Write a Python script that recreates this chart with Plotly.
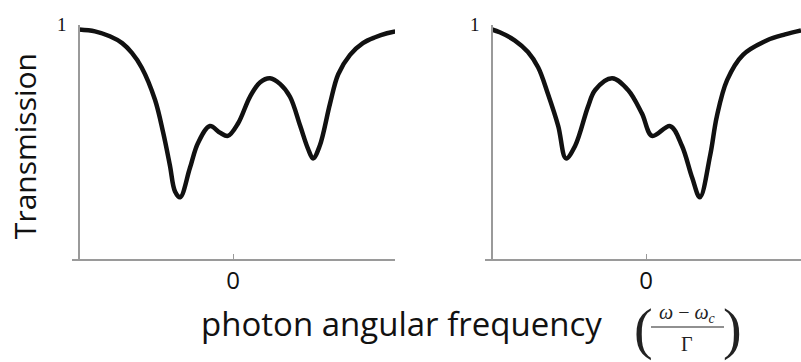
import plotly.graph_objects as go

# Transmission spectrum, left panel (detuning in units of Gamma)
left_x = [-3.0, -2.69, -2.40, -2.16, -1.97, -1.78, -1.52, -1.36, -1.23, -1.13, -1.03,
          -0.84, -0.68, -0.45, -0.25, -0.10, 0.10, 0.33, 0.53, 0.72, 0.92, 1.11, 1.31,
          1.46, 1.56, 1.69, 1.89, 2.05, 2.28, 2.53, 2.77, 3.00, 3.16]
left_t = [0.979, 0.971, 0.950, 0.921, 0.879, 0.817, 0.679, 0.538, 0.400, 0.288, 0.263,
          0.388, 0.496, 0.567, 0.538, 0.525, 0.579, 0.692, 0.754, 0.771, 0.746, 0.692, 0.567,
          0.471, 0.429, 0.483, 0.663, 0.788, 0.871, 0.921, 0.946, 0.963, 0.971]

# Transmission spectrum, right panel
right_x = [-3.0, -2.85, -2.56, -2.30, -2.10, -1.91, -1.71, -1.56, -1.38, -1.13, -0.99,
           -0.66, -0.35, -0.08, 0.12, 0.47, 0.70, 0.90, 1.05, 1.25, 1.38, 1.58, 1.89,
           2.36, 2.71, 3.02]
right_t = [0.979, 0.967, 0.933, 0.883, 0.817, 0.704, 0.567, 0.429, 0.483, 0.650, 0.721,
           0.771, 0.721, 0.621, 0.525, 0.567, 0.483, 0.346, 0.263, 0.442, 0.608, 0.763, 0.871,
           0.933, 0.958, 0.975]

x_tick_vals = [0]
x_tick_text = ["0"]
y_tick_vals = [1]
y_tick_text = ["1"]

W, H = 801, 362


def px(v):
    return v / W


def py(v):
    return 1 - v / H


fig = go.Figure()
line_style = dict(color="#111111", width=4.5, shape="spline", smoothing=1.0)
fig.add_trace(go.Scatter(x=left_x, y=left_t, mode="lines", line=line_style,
                         xaxis="x", yaxis="y", showlegend=False, hoverinfo="skip"))
fig.add_trace(go.Scatter(x=right_x, y=right_t, mode="lines", line=line_style,
                         xaxis="x2", yaxis="y2", showlegend=False, hoverinfo="skip"))

axis_col = "#9a9a9a"
ydom = [py(256), py(15)]
xcommon = dict(showgrid=False, zeroline=False, showline=True, linecolor=axis_col, linewidth=1.5,
               ticks="inside", ticklen=5, tickwidth=1, tickcolor=axis_col,
               tickvals=x_tick_vals, ticktext=x_tick_text,
               tickfont=dict(family="Open Sans", size=24, color="#111"),
               ticklabelstandoff=0, fixedrange=True)
ycommon = dict(showgrid=False, zeroline=False, showline=True, linecolor=axis_col, linewidth=1.5,
               ticks="inside", ticklen=4, tickwidth=1, tickcolor=axis_col,
               tickvals=y_tick_vals, ticktext=y_tick_text,
               tickfont=dict(family="Liberation Serif", size=19, color="#111"),
               ticklabelstandoff=8, range=[0, 1], domain=ydom, anchor="free", fixedrange=True)

fig.update_layout(
    width=W, height=H,
    margin=dict(l=0, r=0, t=0, b=0),
    paper_bgcolor="white", plot_bgcolor="white",
    xaxis=dict(xcommon, domain=[px(72), px(395)], range=[-3.137, 3.156], anchor="y"),
    yaxis=dict(ycommon, position=px(79)),
    xaxis2=dict(xcommon, domain=[px(485), 1.0], range=[-3.137, 3.02], anchor="y2"),
    yaxis2=dict(ycommon, position=px(492)),
)

# Axis titles and the scaled-detuning expression
ann = [
    dict(text="Transmission", x=px(24), y=py(140), textangle=-90,
         font=dict(family="Open Sans", size=30, color="#111")),
    dict(text="photon angular frequency", x=px(199), y=py(322), xanchor="left",
         font=dict(family="Open Sans", size=33, color="#111")),
    dict(text="(", x=px(643), y=py(329), font=dict(family="Liberation Serif", size=56, color="#222")),
    dict(text=")", x=px(732), y=py(329), font=dict(family="Liberation Serif", size=56, color="#222")),
    dict(text="<i>ω</i> − <i>ω</i><sub><i>c</i></sub>", x=px(687), y=py(312),
         font=dict(family="Liberation Serif", size=20, color="#222")),
    dict(text="Γ", x=px(687), y=py(343), font=dict(family="Liberation Serif", size=20, color="#222")),
]
for a in ann:
    a.update(xref="paper", yref="paper", showarrow=False, xanchor=a.get("xanchor", "center"),
             yanchor="middle")
fig.update_layout(annotations=ann)
fig.add_shape(type="line", xref="paper", yref="paper", x0=px(651), x1=px(724), y0=py(326), y1=py(326),
              line=dict(color="#222", width=1.2))

fig.write_html("out.html")
